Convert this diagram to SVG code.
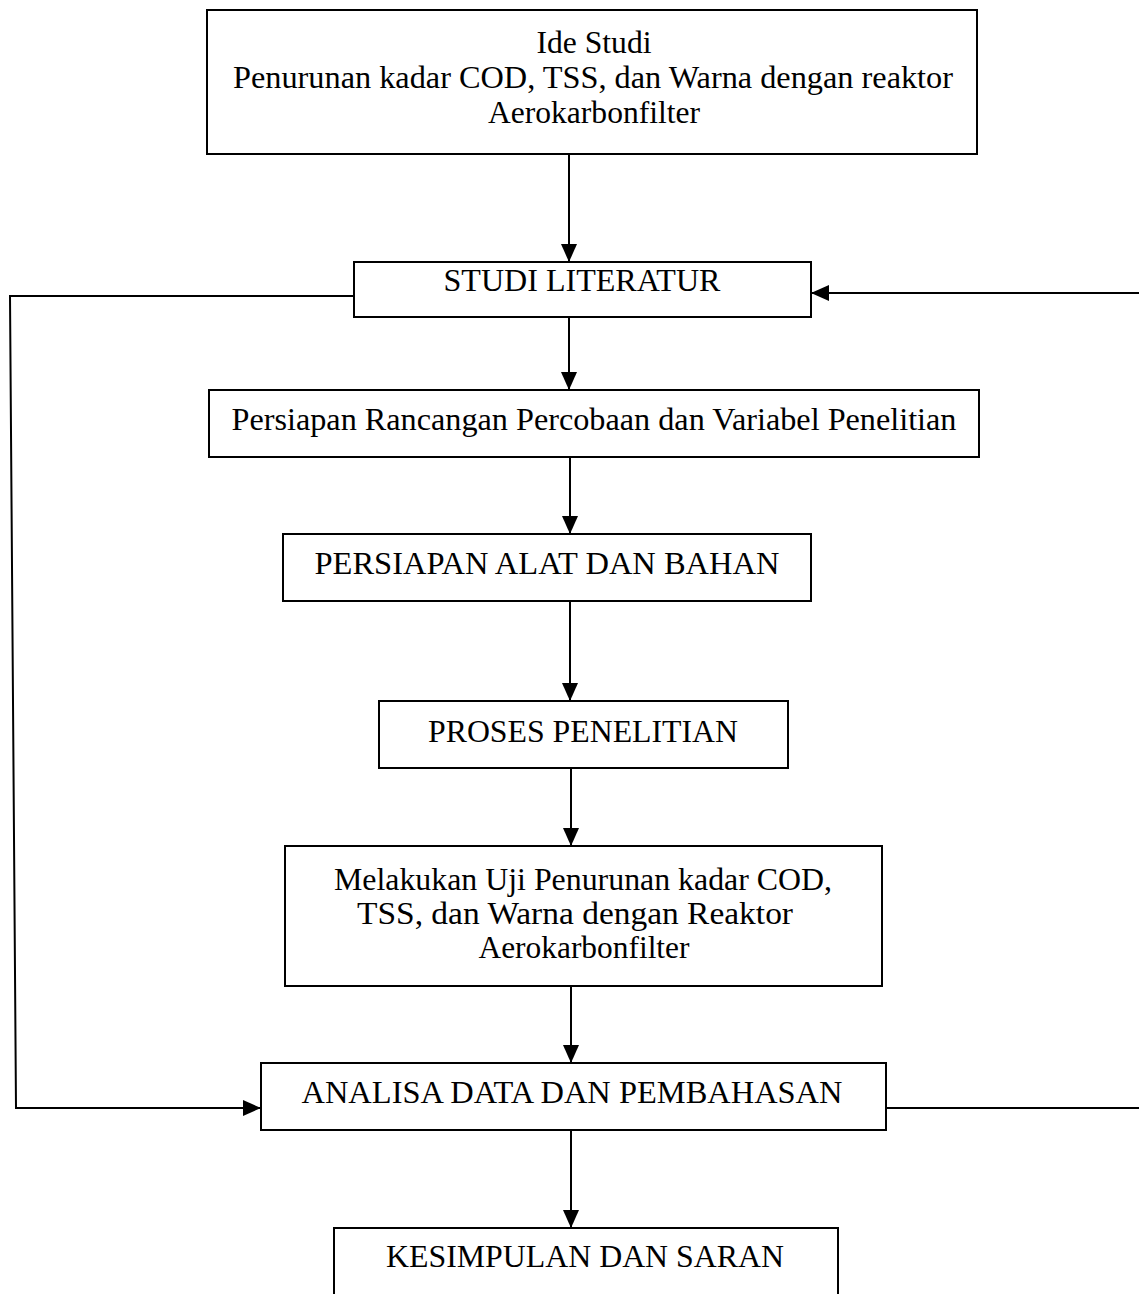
<svg xmlns="http://www.w3.org/2000/svg" width="1139" height="1294" viewBox="0 0 1139 1294">
<style>
.box{fill:#fff;stroke:#000;stroke-width:2}
.t{font-family:"Liberation Serif","Times New Roman",serif;font-size:32.5px;fill:#000;text-anchor:middle}
.c{fill:none;stroke:#000;stroke-width:2}
</style>
<defs>
<marker id="ah" viewBox="0 0 18 16" refX="18" refY="8" markerWidth="18" markerHeight="16" markerUnits="userSpaceOnUse" orient="auto">
<path d="M0,0 L18,8 L0,16 Z" fill="#000"/>
</marker>
</defs>
<rect width="1139" height="1294" fill="#fff"/>
<g id="connectors">
<line class="c" x1="569" y1="154" x2="569" y2="262" marker-end="url(#ah)"/>
<line class="c" x1="569" y1="317" x2="569" y2="390" marker-end="url(#ah)"/>
<line class="c" x1="570" y1="457" x2="570" y2="534" marker-end="url(#ah)"/>
<line class="c" x1="570" y1="601" x2="570" y2="701" marker-end="url(#ah)"/>
<line class="c" x1="571" y1="768" x2="571" y2="846" marker-end="url(#ah)"/>
<line class="c" x1="571" y1="986" x2="571" y2="1063" marker-end="url(#ah)"/>
<line class="c" x1="571" y1="1130" x2="571" y2="1228" marker-end="url(#ah)"/>
<polyline class="c" points="354,296 10,296 16,1108 261,1108" marker-end="url(#ah)"/>
<line class="c" x1="1139" y1="293" x2="811" y2="293" marker-end="url(#ah)"/>
<line class="c" x1="886" y1="1108" x2="1139" y2="1108"/>
</g>
<g id="n1">
<rect class="box" x="207" y="10" width="770" height="144"/>
<text class="t" x="594" y="53" textLength="115" lengthAdjust="spacingAndGlyphs">Ide Studi</text>
<text class="t" x="593" y="88" textLength="720" lengthAdjust="spacingAndGlyphs">Penurunan kadar COD, TSS, dan Warna dengan reaktor</text>
<text class="t" x="594" y="123" textLength="212" lengthAdjust="spacingAndGlyphs">Aerokarbonfilter</text>
</g>
<g id="n2">
<rect class="box" x="354" y="262" width="457" height="55"/>
<text class="t" x="582" y="291" textLength="277" lengthAdjust="spacingAndGlyphs">STUDI LITERATUR</text>
</g>
<g id="n3">
<rect class="box" x="209" y="390" width="770" height="67"/>
<text class="t" x="594" y="430" textLength="725" lengthAdjust="spacingAndGlyphs">Persiapan Rancangan Percobaan dan Variabel Penelitian</text>
</g>
<g id="n4">
<rect class="box" x="283" y="534" width="528" height="67"/>
<text class="t" x="547" y="574" textLength="465" lengthAdjust="spacingAndGlyphs">PERSIAPAN ALAT DAN BAHAN</text>
</g>
<g id="n5">
<rect class="box" x="379" y="701" width="409" height="67"/>
<text class="t" x="583" y="742" textLength="310" lengthAdjust="spacingAndGlyphs">PROSES PENELITIAN</text>
</g>
<g id="n6">
<rect class="box" x="285" y="846" width="597" height="140"/>
<text class="t" x="583" y="890" textLength="498" lengthAdjust="spacingAndGlyphs">Melakukan Uji Penurunan kadar COD,</text>
<text class="t" x="575" y="924" textLength="436" lengthAdjust="spacingAndGlyphs">TSS, dan Warna dengan Reaktor</text>
<text class="t" x="584" y="958" textLength="211" lengthAdjust="spacingAndGlyphs">Aerokarbonfilter</text>
</g>
<g id="n7">
<rect class="box" x="261" y="1063" width="625" height="67"/>
<text class="t" x="572" y="1103" textLength="541" lengthAdjust="spacingAndGlyphs">ANALISA DATA DAN PEMBAHASAN</text>
</g>
<g id="n8">
<rect class="box" x="334" y="1228" width="504" height="90"/>
<text class="t" x="585" y="1267" textLength="398" lengthAdjust="spacingAndGlyphs">KESIMPULAN DAN SARAN</text>
</g>
</svg>
